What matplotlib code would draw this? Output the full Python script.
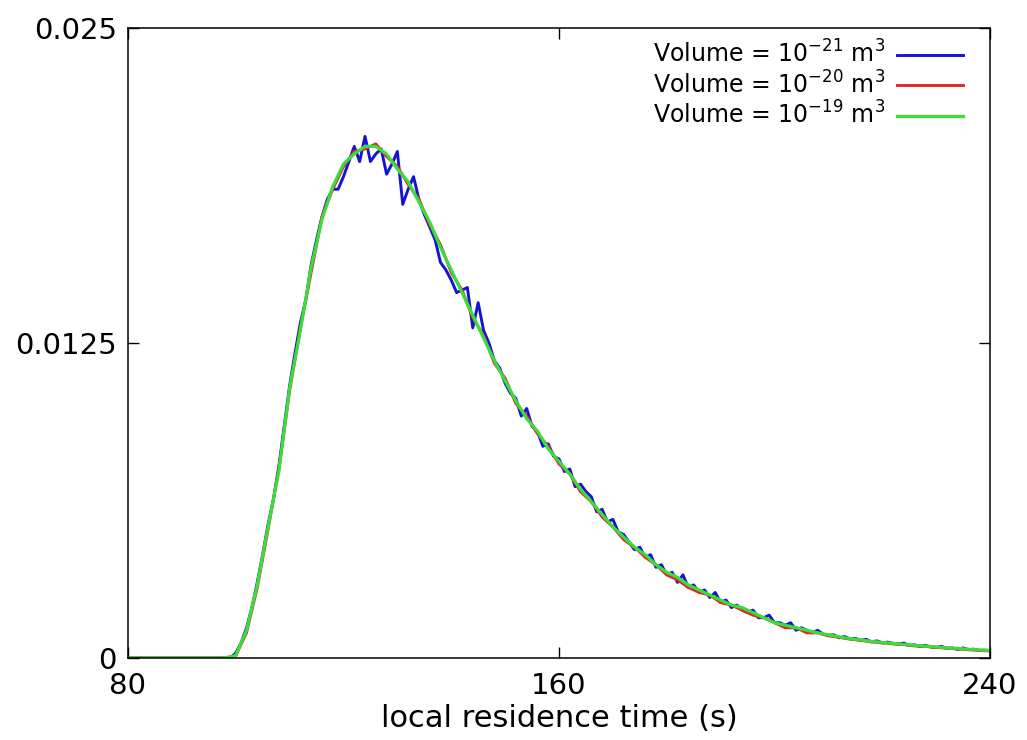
import numpy as np
import matplotlib
matplotlib.use("Agg")
import matplotlib.pyplot as plt

# smooth curves sampled every 2 s
t2 = np.arange(80, 241, 2)
vol_19 = [0, 0, 0, 0, 0, 0, 0, 0, 0, 0,
          0.0001, 0.0011, 0.0029, 0.0052, 0.0074, 0.0107, 0.0130, 0.0155, 0.0174, 0.0187,
          0.0196, 0.0200, 0.0203, 0.0203, 0.0200, 0.0194, 0.0189, 0.0181, 0.0173, 0.0163,
          0.0154, 0.0145, 0.0136, 0.0127, 0.0118, 0.0110, 0.0102, 0.0095, 0.0090, 0.0083,
          0.0078, 0.0073, 0.0067, 0.0062, 0.0057, 0.0052, 0.0048, 0.0044, 0.0041, 0.0037,
          0.0034, 0.0032, 0.0029, 0.0027, 0.0025, 0.0023, 0.0021, 0.0020, 0.0018, 0.0016,
          0.0014, 0.0013, 0.0012, 0.0011, 0.0010, 0.00092, 0.00084, 0.00077, 0.00072, 0.00066,
          0.00062, 0.00058, 0.00054, 0.00050, 0.00047, 0.00044, 0.00040, 0.00038, 0.00035, 0.00032,
          0.00030]
vol_20 = [0, 0, 0, 0, 0, 0, 0, 0, 0, 0,
          0.0001, 0.0010, 0.0028, 0.0051, 0.0075, 0.0106, 0.0131, 0.0153, 0.0175, 0.0186,
          0.0195, 0.0201, 0.0202, 0.0204, 0.0199, 0.0195, 0.0188, 0.0182, 0.0172, 0.0164,
          0.0153, 0.0146, 0.0135, 0.0128, 0.0117, 0.0111, 0.0101, 0.0096, 0.0089, 0.0084,
          0.0077, 0.0073, 0.0066, 0.0062, 0.0056, 0.0052, 0.0047, 0.0044, 0.0040, 0.0037,
          0.0033, 0.0031, 0.0028, 0.0026, 0.0025, 0.0022, 0.0021, 0.0019, 0.0017, 0.0016,
          0.0014, 0.0012, 0.0012, 0.0010, 0.0010, 0.00088, 0.00082, 0.00075, 0.00070, 0.00064,
          0.00060, 0.00056, 0.00053, 0.00048, 0.00046, 0.00042, 0.00039, 0.00036, 0.00033, 0.00030,
          0.00028]

# noisy curve sampled every 1 s
t1 = np.arange(80, 241, 1)
vol_21 = [0, 0, 0, 0, 0, 0, 0, 0, 0, 0,
          0, 0, 0, 0, 0, 0, 0, 0, 0, 0,
          0.0002, 0.0006, 0.0012, 0.0020, 0.0030, 0.0041, 0.0053, 0.0063, 0.0076, 0.0092,
          0.0108, 0.0121, 0.0133, 0.0142, 0.0156, 0.0166, 0.0175, 0.0182, 0.0186, 0.0186,
          0.0191, 0.0197, 0.0203, 0.0197, 0.0207, 0.0197, 0.0200, 0.0202, 0.0192, 0.0196,
          0.0201, 0.0180, 0.0186, 0.0191, 0.0182, 0.0176, 0.0171, 0.0166, 0.0157, 0.0154,
          0.0150, 0.0145, 0.0146, 0.0147, 0.0131, 0.0141, 0.0130, 0.0125, 0.0118, 0.0115,
          0.0109, 0.0105, 0.0103, 0.0096, 0.0099, 0.0092, 0.0090, 0.0084, 0.0085, 0.0080,
          0.0079, 0.0074, 0.0075, 0.0068, 0.0069, 0.0066, 0.0064, 0.0058, 0.0059, 0.0054,
          0.0055, 0.0050, 0.0049, 0.0046, 0.0043, 0.0044, 0.0040, 0.0041, 0.0036, 0.0037,
          0.0033, 0.0034, 0.0030, 0.0033, 0.0028, 0.0029, 0.0026, 0.0027, 0.0024, 0.0026,
          0.0022, 0.0023, 0.0020, 0.0021, 0.0019, 0.0018, 0.0019, 0.0016, 0.0016, 0.0017,
          0.0014, 0.0014, 0.0013, 0.0014, 0.0011, 0.0012, 0.0011, 0.0010, 0.0011, 0.00095,
          0.00090, 0.00092, 0.00080, 0.00085, 0.00076, 0.00078, 0.00070, 0.00074, 0.00064, 0.00068,
          0.00060, 0.00063, 0.00058, 0.00056, 0.00059, 0.00050, 0.00052, 0.00046, 0.00050, 0.00044,
          0.00042, 0.00046, 0.00038, 0.00040, 0.00034, 0.00040, 0.00033, 0.00035, 0.00030, 0.00031,
          0.00029]

labels = ["Volume = 10$^{-21}$ m$^3$", "Volume = 10$^{-20}$ m$^3$", "Volume = 10$^{-19}$ m$^3$"]
colors = ["#1414d2", "#e02828", "#3ade3a"]

fig = plt.figure(figsize=(10.27, 7.4), dpi=100)
ax = fig.add_axes([0.1246, 0.1108, 0.8394, 0.8514])

ax.plot(t1, vol_21, color=colors[0], lw=2.1, label=labels[0])
ax.plot(t2, vol_20, color=colors[1], lw=2.1, label=labels[1])
ax.plot(t2, vol_19, color=colors[2], lw=2.3, label=labels[2])

ax.set_xlim(80, 240)
ax.set_ylim(0, 0.025)
ax.set_xticks([80, 160, 240])
ax.set_xticklabels(["80", "160", "240"])
ax.set_yticks([0, 0.0125, 0.025])
ax.set_yticklabels(["0", "0.0125", "0.025"])
ax.tick_params(direction="in", length=8, width=1, top=True, right=True,
               labelsize=21)
ax.tick_params(axis="x", pad=10)
ax.tick_params(axis="y", pad=8)
for s in ax.spines.values():
    s.set_linewidth(1.1)

ax.set_xlabel("local residence time (s)", fontsize=22, labelpad=3)

leg = ax.legend(loc="upper right", bbox_to_anchor=(0.969, 0.98),
                frameon=False, markerfirst=False, fontsize=17,
                handlelength=2.8, labelspacing=0.14, borderaxespad=0,
                borderpad=0, handletextpad=0.5)

fig.savefig("out.png", dpi=100)
